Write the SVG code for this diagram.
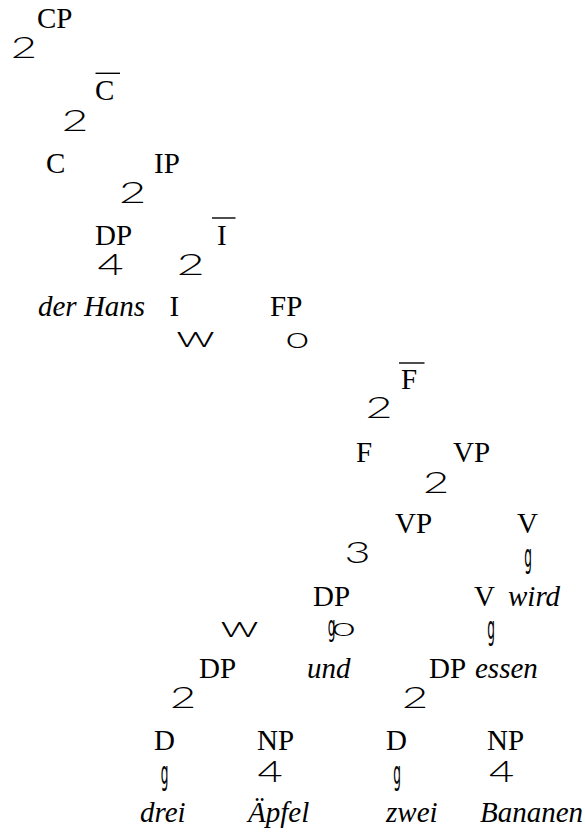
<svg xmlns="http://www.w3.org/2000/svg" width="585" height="835" viewBox="0 0 585 835">
<style>
text{fill:#000}
.n{font-family:'Liberation Serif','DejaVu Serif',serif;font-size:29px}
.w{font-family:'Liberation Serif','DejaVu Serif',serif;font-size:29px;font-style:italic}
.b{font-family:Lato,'DejaVu Sans',sans-serif;font-weight:300;font-size:30px;text-anchor:middle}
.bg{font-family:'DejaVu Sans',sans-serif;font-size:32px;text-anchor:middle}
.ov{stroke:#000;stroke-width:1.4}
</style>
<rect width="585" height="835" fill="#fff"/>
<g id="connectors">
<text class="b" transform="translate(23.7,58) scale(1.5,1)">2</text>
<text class="b" transform="translate(75,131) scale(1.52,1)">2</text>
<text class="b" transform="translate(132.5,203) scale(1.56,1)">2</text>
<text class="b" transform="translate(110.5,275) scale(1.5,1)">4</text>
<text class="b" transform="translate(190.7,275) scale(1.6,1)">2</text>
<text class="b" transform="translate(195.5,347) scale(1.7,1)">w</text>
<text class="b" transform="translate(297.5,347.5) scale(1.45,1)">o</text>
<text class="b" transform="translate(379,418) scale(1.55,1)">2</text>
<text class="b" transform="translate(436,493) scale(1.5,1)">2</text>
<text class="b" transform="translate(357.5,563) scale(1.5,1)">3</text>
<text class="bg" transform="translate(528,566.5) scale(0.38,1)">g</text>
<text class="b" transform="translate(239.5,637) scale(1.68,1)">w</text>
<text class="bg" transform="translate(331.5,636) scale(0.38,0.88)">g</text>
<text class="b" transform="translate(343.5,636) scale(1.5,0.82)">o</text>
<text class="bg" transform="translate(491,638.5) scale(0.38,1)">g</text>
<text class="b" transform="translate(183,708) scale(1.5,1)">2</text>
<text class="b" transform="translate(415,708) scale(1.5,1)">2</text>
<text class="bg" transform="translate(164.5,783.5) scale(0.38,1)">g</text>
<text class="b" transform="translate(270,782) scale(1.45,1)">4</text>
<text class="bg" transform="translate(397,783.5) scale(0.38,1)">g</text>
<text class="b" transform="translate(501.5,782) scale(1.45,1)">4</text>
</g>
<g id="CP"><text class="n" x="37" y="28">CP</text></g>
<g id="Cbar"><text class="n" x="95" y="100">C</text><line class="ov" x1="95.5" y1="73.3" x2="120" y2="73.3"/></g>
<g id="C"><text class="n" x="46" y="173">C</text></g>
<g id="IP"><text class="n" x="154" y="173">IP</text></g>
<g id="DP1"><text class="n" x="95" y="245">DP</text></g>
<g id="Ibar"><text class="n" x="217" y="245">I</text><line class="ov" x1="212" y1="218" x2="235.5" y2="218"/></g>
<g id="derHans"><text class="w" x="38" y="316">der Hans</text></g>
<g id="I"><text class="n" x="169.5" y="316">I</text></g>
<g id="FP"><text class="n" x="270" y="316">FP</text></g>
<g id="Fbar"><text class="n" x="401" y="389">F</text><line class="ov" x1="399" y1="363" x2="424.5" y2="363"/></g>
<g id="F"><text class="n" x="356" y="462">F</text></g>
<g id="VP1"><text class="n" x="453" y="462">VP</text></g>
<g id="VP2"><text class="n" x="395" y="533">VP</text></g>
<g id="V1"><text class="n" x="517" y="533">V</text></g>
<g id="DP2"><text class="n" x="313" y="606">DP</text></g>
<g id="V2"><text class="n" x="474" y="606">V</text></g>
<g id="wird"><text class="w" x="508" y="606">wird</text></g>
<g id="DP3"><text class="n" x="199" y="678">DP</text></g>
<g id="und"><text class="w" x="307" y="678">und</text></g>
<g id="DP4"><text class="n" x="429" y="678">DP</text></g>
<g id="essen"><text class="w" x="475" y="678">essen</text></g>
<g id="D1"><text class="n" x="154" y="750">D</text></g>
<g id="NP1"><text class="n" x="257" y="750">NP</text></g>
<g id="D2"><text class="n" x="386" y="750">D</text></g>
<g id="NP2"><text class="n" x="487" y="750">NP</text></g>
<g id="drei"><text class="w" x="140" y="822">drei</text></g>
<g id="Aepfel"><text class="w" x="248" y="822">Äpfel</text></g>
<g id="zwei"><text class="w" x="386" y="822">zwei</text></g>
<g id="Bananen"><text class="w" x="480" y="822">Bananen</text></g>
</svg>
